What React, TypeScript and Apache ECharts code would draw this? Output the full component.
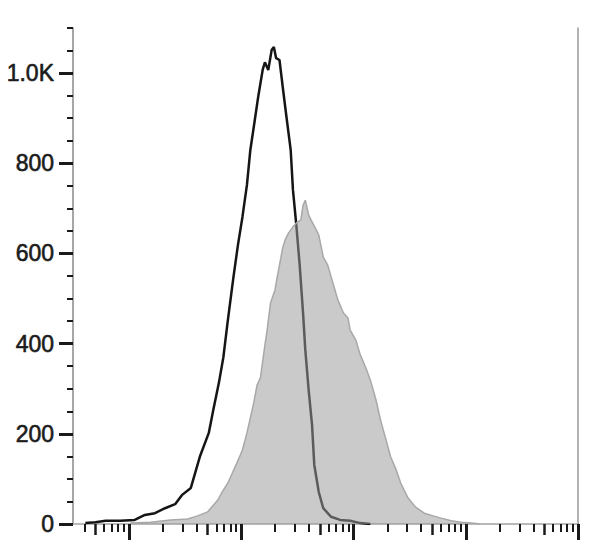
import React, { useEffect, useRef } from "react";
import * as echarts from "echarts";

// Bin positions are in decades (log10 of fluorescence intensity), counts per bin.
const CONTROL_LOG_X = [
  0.61, 0.7, 0.79, 0.92, 1.05, 1.14, 1.23, 1.32, 1.41, 1.47, 1.55, 1.63, 1.71, 1.75, 1.8, 1.84, 1.88,
  1.93, 1.97, 2.01, 2.05, 2.08, 2.12, 2.15, 2.19, 2.21, 2.24, 2.27, 2.29, 2.31, 2.34, 2.37, 2.4, 2.44,
  2.46, 2.49, 2.52, 2.55, 2.57, 2.6, 2.63, 2.65, 2.69, 2.73, 2.8, 2.88, 2.97, 3.06, 3.15,
];
const CONTROL_COUNTS = [
  2, 4, 7, 7, 9, 20, 24, 35, 44, 64, 80, 149, 202, 253, 313, 370, 452, 548, 619, 681, 752, 829, 896,
  947, 1007, 1024, 1007, 1051, 1058, 1033, 1029, 967, 907, 829, 741, 663, 574, 468, 386, 297, 220, 131,
  71, 35, 16, 9, 7, 2, 0,
];
const STAINED_LOG_X = [
  1.01, 1.19, 1.37, 1.52, 1.61, 1.7, 1.79, 1.83, 1.88, 1.92, 1.96, 2.01, 2.05, 2.11, 2.14, 2.17, 2.21,
  2.23, 2.26, 2.3, 2.32, 2.37, 2.39, 2.42, 2.46, 2.5, 2.53, 2.55, 2.57, 2.6, 2.63, 2.66, 2.69, 2.73,
  2.77, 2.8, 2.83, 2.86, 2.91, 2.95, 2.97, 3.02, 3.06, 3.11, 3.15, 3.2, 3.24, 3.29, 3.33, 3.38, 3.42,
  3.48, 3.55, 3.63, 3.71, 3.78, 3.87, 3.96, 4.05, 4.13,
];
const STAINED_COUNTS = [
  2, 4, 9, 11, 18, 27, 53, 71, 91, 113, 135, 164, 202, 268, 308, 324, 397, 430, 490, 519, 548, 614,
  630, 645, 659, 670, 674, 707, 718, 685, 670, 656, 641, 592, 574, 548, 523, 497, 468, 457, 430, 408,
  375, 346, 319, 275, 231, 186, 149, 120, 91, 60, 38, 24, 18, 13, 7, 4, 2, 0,
];

const Y_LABEL_VALUES = [0, 200, 400, 600, 800, 1000];
const X_DECADES = [0, 1, 2, 3, 4, 5];
const X_MINOR_MULTIPLIERS = [2, 3, 4, 6, 7, 8, 9];
const X_MID_MULTIPLIERS = [5];

const X_MIN = 0.5;
const X_MAX = 5;
const Y_MIN = 0;
const Y_MAX = 1100;

function tickPositions(mults: number[]): number[] {
  const out: number[] = [];
  X_DECADES.forEach((d) => {
    mults.forEach((m) => {
      const v = d + Math.log10(m);
      if (v >= X_MIN && v <= X_MAX) out.push(v);
    });
  });
  return out;
}

export default function App() {
  const ref = useRef<HTMLDivElement>(null);

  useEffect(() => {
    if (!ref.current) return;
    const chart = echarts.init(ref.current, undefined, { renderer: "svg" });
    const controlData = CONTROL_LOG_X.map((x, i) => [x, CONTROL_COUNTS[i]]);
    const stainedData = STAINED_LOG_X.map((x, i) => [x, STAINED_COUNTS[i]]);
    const majorX = X_DECADES.filter((d) => d >= X_MIN && d <= X_MAX);

    const baseX = { type: "value", min: X_MIN, max: X_MAX, splitLine: { show: false } };
    const baseY = { type: "value", min: Y_MIN, max: Y_MAX, splitLine: { show: false } };

    chart.setOption({
      animation: false,
      backgroundColor: "#ffffff",
      grid: { left: 73, right: 30, top: 28, bottom: 21, containLabel: false },
      xAxis: [
        {
          ...baseX,
          position: "bottom",
          axisLine: { show: true, onZero: false, lineStyle: { color: "#333333", width: 2 } },
          axisTick: { show: true, customValues: majorX, length: 16, lineStyle: { color: "#1a1a1a", width: 3 } },
          axisLabel: { show: false },
        },
        {
          ...baseX,
          position: "bottom",
          axisLine: { show: false },
          axisTick: {
            show: true,
            customValues: tickPositions(X_MINOR_MULTIPLIERS),
            length: 8,
            lineStyle: { color: "#1a1a1a", width: 2 },
          },
          axisLabel: { show: false },
        },
        {
          ...baseX,
          position: "bottom",
          axisLine: { show: false },
          axisTick: {
            show: true,
            customValues: tickPositions(X_MID_MULTIPLIERS),
            length: 11,
            lineStyle: { color: "#1a1a1a", width: 2.5 },
          },
          axisLabel: { show: false },
        },
        {
          ...baseX,
          position: "top",
          axisLine: { show: true, lineStyle: { color: "#e6e6e6", width: 1.5 } },
          axisTick: { show: false },
          axisLabel: { show: false },
        },
      ],
      yAxis: [
        {
          ...baseY,
          position: "left",
          axisLine: { show: true, onZero: false, lineStyle: { color: "#888888", width: 1.5 } },
          axisTick: { show: true, customValues: Y_LABEL_VALUES, length: 14, lineStyle: { color: "#1a1a1a", width: 3 } },
          axisLabel: {
            show: true,
            customValues: Y_LABEL_VALUES,
            margin: 19,
            color: "#1c1c1c",
            fontFamily: "Liberation Sans",
            fontSize: 23,
            textBorderColor: "#1c1c1c",
            textBorderWidth: 0.6,
            formatter: (v: number) => (v >= 1000 ? (v / 1000).toFixed(1) + "K" : String(v)),
          },
        },
        {
          ...baseY,
          position: "left",
          interval: 50,
          axisLine: { show: false },
          axisTick: { show: true, length: 6, lineStyle: { color: "#1a1a1a", width: 2 } },
          axisLabel: { show: false },
        },
        {
          ...baseY,
          position: "right",
          axisLine: { show: true, lineStyle: { color: "#999999", width: 1.5 } },
          axisTick: { show: false },
          axisLabel: { show: false },
        },
      ],
      series: [
        {
          name: "Control",
          type: "line",
          data: controlData,
          xAxisIndex: 0,
          yAxisIndex: 0,
          showSymbol: false,
          symbol: "none",
          z: 2,
          lineStyle: { color: "#151515", width: 2.5 },
        },
        {
          name: "Stained",
          type: "line",
          data: stainedData,
          xAxisIndex: 0,
          yAxisIndex: 0,
          showSymbol: false,
          symbol: "none",
          z: 3,
          lineStyle: { color: "#a8a8a8", width: 1.5 },
          areaStyle: { color: "#9a9a9a", opacity: 0.53 },
        },
      ],
    });
    return () => chart.dispose();
  }, []);

  return (
    <div
      ref={ref}
      style={{ position: "fixed", left: 0, top: 0, width: 608, height: 545, background: "#fff" }}
    />
  );
}
